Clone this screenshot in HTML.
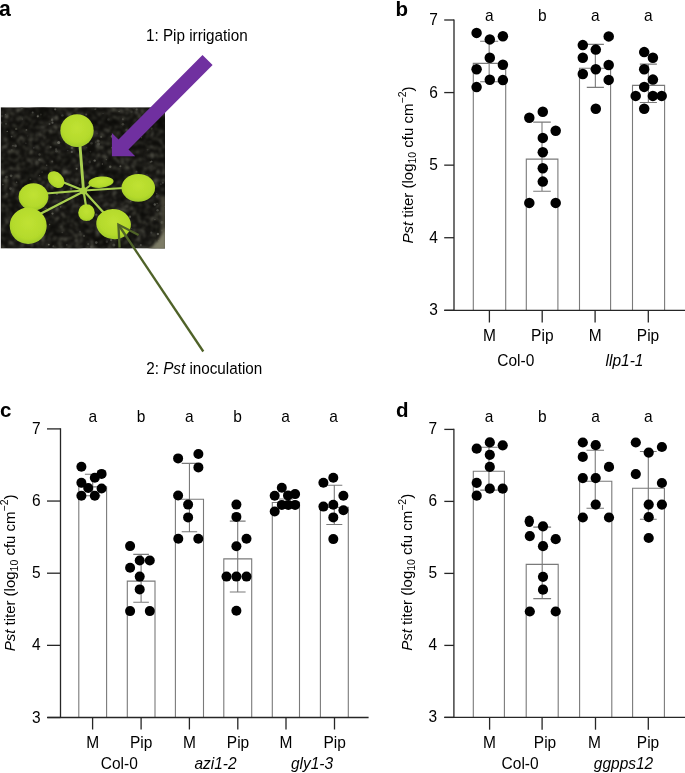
<!DOCTYPE html>
<html><head><meta charset="utf-8"><style>
html,body{margin:0;padding:0;background:#fff;}
svg{display:block;font-family:"Liberation Sans", sans-serif;will-change:transform;}
text{fill:#000;}
</style></head><body>
<svg width="685" height="773" viewBox="0 0 685 773">
<rect width="685" height="773" fill="#fff"/>
<text x="-0.9" y="16.0" font-size="21.2" text-anchor="start" font-weight="bold" font-style="normal" >a</text>
<defs><clipPath id="ph"><rect x="1" y="107.3" width="164" height="141.2"/></clipPath><radialGradient id="lf" cx="0.5" cy="0.42" r="0.62"><stop offset="0" stop-color="#c0e232"/><stop offset="0.7" stop-color="#b4da2c"/><stop offset="1" stop-color="#9ac62c"/></radialGradient><filter id="soil" x="0" y="0" width="100%" height="100%" color-interpolation-filters="sRGB"><feTurbulence type="fractalNoise" baseFrequency="0.24" numOctaves="2" seed="11" result="n"/><feColorMatrix in="n" type="matrix" values="0 0 0 0 0.40  0 0 0 0 0.40  0 0 0 0 0.35  2.2 0 0 0 -1.0" result="a"/><feGaussianBlur in="a" stdDeviation="0.8"/></filter><filter id="soil2" x="0" y="0" width="100%" height="100%" color-interpolation-filters="sRGB"><feTurbulence type="fractalNoise" baseFrequency="0.2" numOctaves="1" seed="4" result="n"/><feColorMatrix in="n" type="matrix" values="0 0 0 0 0.5  0 0 0 0 0.5  0 0 0 0 0.45  5 0 0 0 -3.2" result="a"/><feGaussianBlur in="a" stdDeviation="0.9"/></filter><filter id="soil3" x="0" y="0" width="100%" height="100%" color-interpolation-filters="sRGB"><feTurbulence type="fractalNoise" baseFrequency="0.06" numOctaves="2" seed="21" result="n"/><feColorMatrix in="n" type="matrix" values="0 0 0 0 0.02  0 0 0 0 0.02  0 0 0 0 0.01  1.6 0 0 0 -0.6" result="a"/></filter><filter id="pb" x="-50%" y="-50%" width="200%" height="200%"><feGaussianBlur stdDeviation="1.6"/></filter><filter id="lb" x="-20%" y="-20%" width="140%" height="140%"><feGaussianBlur stdDeviation="0.55"/></filter><radialGradient id="pot" gradientUnits="userSpaceOnUse" cx="78" cy="158" r="122"><stop offset="0.80" stop-color="#77755f" stop-opacity="0"/><stop offset="0.9" stop-color="#77755f" stop-opacity="0.85"/><stop offset="1" stop-color="#4a493a" stop-opacity="0.9"/></radialGradient></defs>
<g clip-path="url(#ph)">
<rect x="1" y="107.3" width="164" height="141.2" fill="#151411"/>
<rect x="1" y="107.3" width="164" height="141.2" filter="url(#soil)"/>
<rect x="1" y="107.3" width="164" height="141.2" filter="url(#soil2)"/>
<rect x="1" y="107.3" width="164" height="141.2" filter="url(#soil3)"/>
<g filter="url(#lb)"><circle cx="103.2" cy="212.1" r="1.3" fill="#7e7e73" opacity="0.67"/><circle cx="152.3" cy="111.6" r="1.0" fill="#7e7e73" opacity="0.62"/><circle cx="148.7" cy="123.5" r="1.0" fill="#54544d" opacity="0.57"/><circle cx="95.1" cy="109.3" r="0.8" fill="#56564f" opacity="0.76"/><circle cx="126.6" cy="130.0" r="1.3" fill="#4e4e47" opacity="0.61"/><circle cx="21.8" cy="107.8" r="1.4" fill="#52524b" opacity="0.41"/><circle cx="162.1" cy="230.5" r="0.9" fill="#7f7f74" opacity="0.57"/><circle cx="112.2" cy="136.4" r="1.4" fill="#6f6f66" opacity="0.78"/><circle cx="147.6" cy="149.6" r="0.9" fill="#4f4f48" opacity="0.37"/><circle cx="11.7" cy="150.0" r="1.1" fill="#464640" opacity="0.64"/><circle cx="56.4" cy="151.2" r="1.3" fill="#62625a" opacity="0.46"/><circle cx="79.9" cy="206.9" r="0.7" fill="#808075" opacity="0.31"/><circle cx="124.0" cy="226.6" r="0.6" fill="#75756b" opacity="0.48"/><circle cx="95.9" cy="108.8" r="0.6" fill="#505049" opacity="0.78"/><circle cx="33.2" cy="214.1" r="1.4" fill="#7e7e73" opacity="0.47"/><circle cx="59.2" cy="181.5" r="1.3" fill="#4c4c45" opacity="0.67"/><circle cx="131.7" cy="228.7" r="0.6" fill="#7e7e73" opacity="0.35"/><circle cx="56.9" cy="193.6" r="1.4" fill="#5a5a52" opacity="0.76"/><circle cx="90.4" cy="151.6" r="0.9" fill="#505049" opacity="0.34"/><circle cx="25.4" cy="204.7" r="1.5" fill="#4f4f48" opacity="0.32"/><circle cx="162.8" cy="182.7" r="1.0" fill="#54544d" opacity="0.60"/><circle cx="136.5" cy="171.7" r="1.0" fill="#494943" opacity="0.76"/><circle cx="6.4" cy="177.1" r="1.4" fill="#4d4d46" opacity="0.67"/><circle cx="156.8" cy="196.4" r="1.3" fill="#4c4c45" opacity="0.52"/><circle cx="25.5" cy="226.6" r="0.9" fill="#616159" opacity="0.80"/><circle cx="140.8" cy="245.1" r="1.0" fill="#63635b" opacity="0.66"/><circle cx="79.6" cy="148.5" r="1.0" fill="#4e4e47" opacity="0.49"/><circle cx="163.1" cy="242.8" r="1.2" fill="#63635b" opacity="0.47"/><circle cx="15.6" cy="145.9" r="1.3" fill="#7a7a70" opacity="0.48"/><circle cx="129.9" cy="216.8" r="1.2" fill="#6d6d64" opacity="0.68"/><circle cx="60.6" cy="206.8" r="0.9" fill="#63635b" opacity="0.68"/><circle cx="114.3" cy="148.9" r="1.5" fill="#6c6c63" opacity="0.59"/><circle cx="2.9" cy="184.6" r="0.8" fill="#6e6e65" opacity="0.53"/><circle cx="134.9" cy="198.8" r="1.3" fill="#5a5a52" opacity="0.62"/><circle cx="122.0" cy="224.3" r="0.9" fill="#78786e" opacity="0.73"/><circle cx="113.9" cy="245.1" r="1.5" fill="#65655c" opacity="0.56"/><circle cx="28.3" cy="225.5" r="1.4" fill="#62625a" opacity="0.65"/><circle cx="119.0" cy="210.5" r="0.8" fill="#74746a" opacity="0.59"/><circle cx="110.2" cy="166.8" r="1.2" fill="#74746a" opacity="0.62"/><circle cx="119.1" cy="111.4" r="0.7" fill="#606058" opacity="0.63"/><circle cx="36.9" cy="204.2" r="1.2" fill="#484842" opacity="0.54"/><circle cx="38.1" cy="115.1" r="0.7" fill="#595951" opacity="0.39"/><circle cx="32.7" cy="112.5" r="1.0" fill="#5c5c54" opacity="0.61"/><circle cx="97.8" cy="141.0" r="1.4" fill="#464640" opacity="0.50"/><circle cx="46.7" cy="165.3" r="0.7" fill="#77776d" opacity="0.49"/><circle cx="6.9" cy="194.0" r="0.7" fill="#66665d" opacity="0.47"/><circle cx="96.3" cy="242.6" r="1.3" fill="#5f5f57" opacity="0.71"/><circle cx="106.3" cy="159.6" r="0.7" fill="#696960" opacity="0.58"/><circle cx="158.0" cy="244.0" r="1.1" fill="#5b5b53" opacity="0.75"/><circle cx="1.2" cy="122.7" r="1.1" fill="#6a6a61" opacity="0.37"/><circle cx="104.2" cy="233.2" r="0.9" fill="#5f5f57" opacity="0.41"/><circle cx="48.8" cy="244.6" r="0.9" fill="#7f7f74" opacity="0.76"/><circle cx="98.7" cy="144.1" r="1.5" fill="#63635b" opacity="0.51"/><circle cx="53.3" cy="246.3" r="1.0" fill="#575750" opacity="0.54"/><circle cx="21.0" cy="195.2" r="1.0" fill="#575750" opacity="0.69"/><circle cx="136.6" cy="109.4" r="1.1" fill="#56564f" opacity="0.77"/><circle cx="129.2" cy="142.1" r="0.8" fill="#4f4f48" opacity="0.79"/><circle cx="49.1" cy="193.2" r="1.0" fill="#6c6c63" opacity="0.60"/><circle cx="122.9" cy="124.2" r="1.3" fill="#585850" opacity="0.57"/><circle cx="56.1" cy="149.4" r="1.1" fill="#616159" opacity="0.48"/><circle cx="123.2" cy="190.8" r="0.6" fill="#55554e" opacity="0.53"/><circle cx="151.3" cy="232.7" r="1.1" fill="#464640" opacity="0.69"/><circle cx="71.1" cy="188.7" r="1.2" fill="#6b6b62" opacity="0.54"/><circle cx="150.5" cy="161.9" r="1.0" fill="#79796f" opacity="0.40"/><circle cx="49.6" cy="224.5" r="0.7" fill="#78786e" opacity="0.65"/><circle cx="72.0" cy="147.9" r="1.3" fill="#7c7c72" opacity="0.37"/><circle cx="79.5" cy="184.9" r="1.0" fill="#595951" opacity="0.38"/><circle cx="97.1" cy="222.0" r="0.7" fill="#53534c" opacity="0.71"/><circle cx="130.8" cy="201.1" r="0.6" fill="#717167" opacity="0.79"/><circle cx="164.7" cy="206.4" r="0.6" fill="#78786e" opacity="0.41"/><circle cx="106.9" cy="241.8" r="1.2" fill="#4e4e47" opacity="0.45"/><circle cx="151.6" cy="128.6" r="1.1" fill="#5e5e56" opacity="0.38"/><circle cx="103.1" cy="113.6" r="0.7" fill="#5c5c54" opacity="0.34"/><circle cx="10.4" cy="188.6" r="1.3" fill="#7a7a70" opacity="0.37"/><circle cx="71.8" cy="151.9" r="1.1" fill="#63635b" opacity="0.77"/><circle cx="62.4" cy="115.4" r="1.2" fill="#4f4f48" opacity="0.62"/><circle cx="84.0" cy="235.9" r="1.1" fill="#6b6b62" opacity="0.43"/><circle cx="91.5" cy="143.3" r="1.3" fill="#65655c" opacity="0.37"/><circle cx="39.4" cy="159.8" r="1.3" fill="#505049" opacity="0.66"/><circle cx="108.4" cy="119.5" r="1.2" fill="#4b4b45" opacity="0.36"/><circle cx="98.4" cy="141.1" r="1.4" fill="#62625a" opacity="0.46"/><circle cx="131.6" cy="111.7" r="1.3" fill="#494943" opacity="0.38"/><circle cx="157.1" cy="203.5" r="0.8" fill="#4c4c45" opacity="0.79"/><circle cx="110.1" cy="223.2" r="0.7" fill="#6b6b62" opacity="0.48"/><circle cx="39.5" cy="154.5" r="1.2" fill="#5a5a52" opacity="0.49"/><circle cx="23.4" cy="224.7" r="1.2" fill="#76766c" opacity="0.52"/><circle cx="140.7" cy="180.5" r="1.1" fill="#68685f" opacity="0.67"/><circle cx="65.9" cy="121.2" r="0.6" fill="#52524b" opacity="0.32"/><circle cx="146.8" cy="175.3" r="1.3" fill="#464640" opacity="0.54"/><circle cx="146.9" cy="194.8" r="1.0" fill="#616159" opacity="0.35"/><circle cx="26.4" cy="129.9" r="0.9" fill="#5d5d55" opacity="0.74"/><circle cx="25.9" cy="143.3" r="0.8" fill="#4f4f48" opacity="0.44"/><circle cx="39.6" cy="175.5" r="0.6" fill="#7d7d73" opacity="0.48"/><circle cx="154.8" cy="204.5" r="1.2" fill="#62625a" opacity="0.77"/><circle cx="20.3" cy="201.8" r="0.9" fill="#6e6e65" opacity="0.66"/><circle cx="27.8" cy="135.8" r="0.6" fill="#53534c" opacity="0.34"/><circle cx="66.8" cy="244.8" r="0.9" fill="#585850" opacity="0.53"/><circle cx="47.4" cy="210.8" r="1.2" fill="#4f4f48" opacity="0.42"/><circle cx="111.2" cy="240.1" r="1.2" fill="#5f5f57" opacity="0.79"/><circle cx="2.0" cy="116.1" r="1.3" fill="#5e5e56" opacity="0.32"/><circle cx="90.9" cy="247.0" r="1.1" fill="#5b5b53" opacity="0.35"/><circle cx="12.7" cy="234.2" r="1.0" fill="#7e7e73" opacity="0.33"/><circle cx="40.9" cy="114.6" r="1.0" fill="#494943" opacity="0.43"/><circle cx="67.8" cy="150.6" r="0.6" fill="#484842" opacity="0.79"/><circle cx="30.4" cy="179.2" r="1.0" fill="#65655c" opacity="0.34"/><circle cx="52.5" cy="122.7" r="1.1" fill="#7d7d73" opacity="0.60"/><circle cx="141.5" cy="137.7" r="0.6" fill="#66665d" opacity="0.54"/><circle cx="94.7" cy="160.6" r="1.2" fill="#717167" opacity="0.76"/><circle cx="51.4" cy="170.8" r="1.3" fill="#53534c" opacity="0.36"/><circle cx="52.1" cy="119.9" r="1.3" fill="#77776d" opacity="0.46"/><circle cx="22.3" cy="119.1" r="0.8" fill="#4b4b45" opacity="0.51"/><circle cx="95.6" cy="142.1" r="0.7" fill="#707067" opacity="0.32"/><circle cx="33.8" cy="147.8" r="0.9" fill="#4b4b45" opacity="0.51"/><circle cx="52.5" cy="213.6" r="1.1" fill="#7b7b71" opacity="0.63"/><circle cx="125.6" cy="188.5" r="1.0" fill="#77776d" opacity="0.63"/><circle cx="157.6" cy="210.2" r="1.2" fill="#56564f" opacity="0.71"/><circle cx="63.7" cy="125.9" r="0.7" fill="#505049" opacity="0.43"/><circle cx="111.8" cy="147.8" r="0.7" fill="#737369" opacity="0.58"/><circle cx="5.5" cy="114.6" r="0.7" fill="#5b5b53" opacity="0.73"/><circle cx="156.7" cy="193.8" r="0.8" fill="#5f5f57" opacity="0.48"/><circle cx="55.2" cy="109.3" r="1.1" fill="#77776d" opacity="0.66"/><circle cx="16.6" cy="182.3" r="0.8" fill="#707067" opacity="0.52"/><circle cx="154.9" cy="219.6" r="0.7" fill="#595951" opacity="0.76"/><circle cx="76.6" cy="168.7" r="1.0" fill="#74746a" opacity="0.77"/><circle cx="88.3" cy="244.2" r="1.1" fill="#4c4c45" opacity="0.71"/><circle cx="69.8" cy="114.9" r="1.5" fill="#474741" opacity="0.59"/><circle cx="80.0" cy="231.8" r="1.0" fill="#52524b" opacity="0.44"/><circle cx="34.0" cy="186.8" r="0.9" fill="#737369" opacity="0.42"/><circle cx="58.7" cy="142.5" r="1.5" fill="#78786e" opacity="0.72"/><circle cx="102.4" cy="164.0" r="0.7" fill="#77776d" opacity="0.55"/><circle cx="7.2" cy="131.4" r="0.7" fill="#717167" opacity="0.75"/><circle cx="33.7" cy="219.9" r="0.9" fill="#6e6e65" opacity="0.73"/><circle cx="103.2" cy="220.4" r="0.9" fill="#464640" opacity="0.56"/><circle cx="97.2" cy="133.5" r="1.0" fill="#595951" opacity="0.31"/><circle cx="52.2" cy="161.5" r="1.0" fill="#707067" opacity="0.50"/><circle cx="162.1" cy="222.5" r="1.4" fill="#6f6f66" opacity="0.64"/><circle cx="89.0" cy="220.1" r="0.9" fill="#696960" opacity="0.64"/><circle cx="86.6" cy="147.6" r="0.7" fill="#4b4b45" opacity="0.48"/><circle cx="96.2" cy="214.6" r="1.2" fill="#585850" opacity="0.76"/><circle cx="46.0" cy="208.5" r="0.7" fill="#737369" opacity="0.63"/><circle cx="157.9" cy="234.0" r="1.2" fill="#78786e" opacity="0.67"/><circle cx="101.2" cy="136.9" r="1.1" fill="#7b7b71" opacity="0.42"/><circle cx="160.8" cy="184.2" r="1.0" fill="#464640" opacity="0.50"/><circle cx="30.2" cy="199.6" r="1.4" fill="#7c7c72" opacity="0.61"/><circle cx="64.4" cy="122.9" r="1.2" fill="#67675e" opacity="0.66"/><circle cx="62.3" cy="232.5" r="0.8" fill="#585850" opacity="0.43"/><circle cx="103.0" cy="234.0" r="0.8" fill="#6b6b62" opacity="0.68"/><circle cx="37.8" cy="116.3" r="1.1" fill="#77776d" opacity="0.74"/><circle cx="120.4" cy="166.3" r="1.0" fill="#65655c" opacity="0.75"/><circle cx="50.6" cy="147.1" r="1.1" fill="#7f7f74" opacity="0.39"/><circle cx="6.0" cy="123.8" r="1.1" fill="#6a6a61" opacity="0.39"/><circle cx="32.2" cy="191.3" r="1.2" fill="#6f6f66" opacity="0.66"/><circle cx="11.1" cy="175.8" r="1.4" fill="#7f7f74" opacity="0.46"/><circle cx="140.5" cy="198.5" r="1.4" fill="#53534c" opacity="0.65"/><circle cx="138.9" cy="174.7" r="0.7" fill="#51514a" opacity="0.38"/><circle cx="16.2" cy="128.9" r="1.2" fill="#4c4c45" opacity="0.68"/><circle cx="121.7" cy="222.6" r="1.3" fill="#707067" opacity="0.76"/><circle cx="157.9" cy="195.6" r="1.5" fill="#4c4c45" opacity="0.35"/><circle cx="11.6" cy="136.6" r="0.9" fill="#616159" opacity="0.64"/><circle cx="122.8" cy="119.3" r="1.0" fill="#66665d" opacity="0.49"/><circle cx="20.3" cy="191.7" r="0.9" fill="#6f6f66" opacity="0.55"/><circle cx="158.9" cy="240.7" r="0.7" fill="#737369" opacity="0.66"/><circle cx="49.5" cy="124.0" r="1.0" fill="#5b5b53" opacity="0.67"/><circle cx="151.6" cy="161.4" r="0.9" fill="#63635b" opacity="0.65"/><circle cx="130.4" cy="188.7" r="0.9" fill="#5a5a52" opacity="0.72"/><circle cx="86.2" cy="114.6" r="1.0" fill="#54544d" opacity="0.63"/><circle cx="13.0" cy="145.7" r="0.7" fill="#62625a" opacity="0.79"/><circle cx="89.8" cy="162.0" r="1.4" fill="#4b4b45" opacity="0.48"/><circle cx="134.0" cy="108.2" r="1.3" fill="#5b5b53" opacity="0.31"/><circle cx="42.1" cy="172.1" r="0.9" fill="#65655c" opacity="0.33"/></g>
<path d="M160,196 Q163,222 158,249 L166,249 L166,196 Z" fill="#4d4b3d" opacity="0.8" filter="url(#pb)"/>
<path d="M146,250 Q160,243 166,226 L166,250 Z" fill="#7d7b66" filter="url(#pb)"/>
<g filter="url(#lb)">
<line x1="83.5" y1="190.5" x2="80.0" y2="146.0" stroke="#a8cf50" stroke-width="2.9" stroke-linecap="round"/>
<line x1="83.5" y1="190.5" x2="60.0" y2="181.0" stroke="#a8cf50" stroke-width="2.2" stroke-linecap="round"/>
<line x1="83.5" y1="190.5" x2="46.0" y2="193.5" stroke="#a8cf50" stroke-width="2.2" stroke-linecap="round"/>
<line x1="83.5" y1="191.5" x2="40.0" y2="214.0" stroke="#a8cf50" stroke-width="2.2" stroke-linecap="round"/>
<line x1="83.5" y1="190.5" x2="86.0" y2="206.0" stroke="#a8cf50" stroke-width="2.2" stroke-linecap="round"/>
<line x1="83.5" y1="190.5" x2="104.0" y2="213.0" stroke="#a8cf50" stroke-width="2.2" stroke-linecap="round"/>
<line x1="83.5" y1="190.5" x2="124.0" y2="188.0" stroke="#a8cf50" stroke-width="2.2" stroke-linecap="round"/>
<line x1="83.5" y1="190.5" x2="92.0" y2="184.0" stroke="#a8cf50" stroke-width="2.2" stroke-linecap="round"/>
<circle cx="83.5" cy="190.8" r="3.6" fill="#a9d043"/>
<ellipse cx="77.0" cy="130.6" rx="16.7" ry="16.3" transform="rotate(0 77.0 130.6)" fill="url(#lf)"/>
<ellipse cx="56.0" cy="179.6" rx="9.6" ry="7.0" transform="rotate(45 56.0 179.6)" fill="url(#lf)"/>
<ellipse cx="101.0" cy="182.2" rx="12.6" ry="5.6" transform="rotate(-5 101.0 182.2)" fill="url(#lf)"/>
<ellipse cx="138.3" cy="187.8" rx="16.8" ry="13.9" transform="rotate(0 138.3 187.8)" fill="url(#lf)"/>
<ellipse cx="33.5" cy="196.8" rx="14.9" ry="13.6" transform="rotate(0 33.5 196.8)" fill="url(#lf)"/>
<ellipse cx="28.2" cy="225.8" rx="18.5" ry="18.2" transform="rotate(0 28.2 225.8)" fill="url(#lf)"/>
<ellipse cx="86.5" cy="212.7" rx="8.3" ry="8.4" transform="rotate(0 86.5 212.7)" fill="url(#lf)"/>
<ellipse cx="113.6" cy="224.1" rx="17.4" ry="15.0" transform="rotate(10 113.6 224.1)" fill="url(#lf)"/>
</g>
</g>
<line x1="0.5" y1="107.3" x2="0.5" y2="248.5" stroke="#d8d8d8" stroke-width="1"/>
<polygon points="202.5,54.9 212.6,65.0 128.5,149.5 135.2,156.2 111.9,156.2 111.9,132.9 118.5,139.5" fill="#7030a0"/>
<g stroke="#4f6228" stroke-width="2.3" fill="none" stroke-linecap="butt"><line x1="203.3" y1="351.5" x2="118.6" y2="225.0"/><polyline points="138.6,235.0 118.4,224.6 119.6,247.6"/></g>
<text transform="translate(146.0,40.5) scale(1,1.03)" font-size="15.25" text-anchor="start" font-weight="normal" font-style="normal" >1: Pip irrigation</text>
<text transform="translate(146.2,374.0) scale(1,1.03)" font-size="15.25">2: <tspan font-style="italic">Pst</tspan> inoculation</text>
<path d="M473.3,310.3 V63.4 H505.7 V310.3" fill="#fff" stroke="#7a7a7a" stroke-width="1.1"/>
<path d="M489.15,41.3 V81.8 M480.1,41.3 H498.2 M480.1,81.8 H498.2" fill="none" stroke="#7a7a7a" stroke-width="1.1"/>
<path d="M526.3,310.3 V159.1 H557.9 V310.3" fill="#fff" stroke="#7a7a7a" stroke-width="1.1"/>
<path d="M542.0,122.1 V191.3 M533.2,122.1 H550.8 M533.2,191.3 H550.8" fill="none" stroke="#7a7a7a" stroke-width="1.1"/>
<path d="M579.5,310.3 V68.2 H610.6 V310.3" fill="#fff" stroke="#7a7a7a" stroke-width="1.1"/>
<path d="M595.3499999999999,44.4 V87.4 M586.8,44.4 H603.9 M586.8,87.4 H603.9" fill="none" stroke="#7a7a7a" stroke-width="1.1"/>
<path d="M632.5,310.3 V85.4 H664.6 V310.3" fill="#fff" stroke="#7a7a7a" stroke-width="1.1"/>
<path d="M648.3499999999999,64.1 V102.5 M639.8,64.1 H656.9 M639.8,102.5 H656.9" fill="none" stroke="#7a7a7a" stroke-width="1.1"/>
<path d="M454.0,19.4 V310.3" stroke="#262626" stroke-width="1.3" fill="none"/>
<path d="M444.3,310.3 H685" stroke="#262626" stroke-width="1.3" fill="none"/>
<path d="M444.2,310.3 H454.0" stroke="#262626" stroke-width="1.3" fill="none"/>
<text transform="translate(437.8,315.3) scale(1,1.03)" font-size="15.5" text-anchor="end" font-weight="normal" font-style="normal" >3</text>
<path d="M444.2,237.72500000000002 H454.0" stroke="#262626" stroke-width="1.3" fill="none"/>
<text transform="translate(437.8,242.73) scale(1,1.03)" font-size="15.5" text-anchor="end" font-weight="normal" font-style="normal" >4</text>
<path d="M444.2,165.15 H454.0" stroke="#262626" stroke-width="1.3" fill="none"/>
<text transform="translate(437.8,170.15) scale(1,1.03)" font-size="15.5" text-anchor="end" font-weight="normal" font-style="normal" >5</text>
<path d="M444.2,92.575 H454.0" stroke="#262626" stroke-width="1.3" fill="none"/>
<text transform="translate(437.8,97.58) scale(1,1.03)" font-size="15.5" text-anchor="end" font-weight="normal" font-style="normal" >6</text>
<path d="M444.2,20.0 H454.0" stroke="#262626" stroke-width="1.3" fill="none"/>
<text transform="translate(437.8,25.0) scale(1,1.03)" font-size="15.5" text-anchor="end" font-weight="normal" font-style="normal" >7</text>
<path d="M489.4,310.3 V322.5" stroke="#262626" stroke-width="1.3" fill="none"/>
<path d="M542.2,310.3 V322.5" stroke="#262626" stroke-width="1.3" fill="none"/>
<path d="M595.1,310.3 V322.5" stroke="#262626" stroke-width="1.3" fill="none"/>
<path d="M648.3,310.3 V322.5" stroke="#262626" stroke-width="1.3" fill="none"/>
<circle cx="476.6" cy="32.9" r="5.25"/>
<circle cx="489.8" cy="39.4" r="5.25"/>
<circle cx="502.9" cy="36.3" r="5.25"/>
<circle cx="489.8" cy="57.8" r="5.25"/>
<circle cx="502.9" cy="64.8" r="5.25"/>
<circle cx="476.6" cy="69.2" r="5.25"/>
<circle cx="489.8" cy="79.7" r="5.25"/>
<circle cx="502.9" cy="80.1" r="5.25"/>
<circle cx="476.6" cy="87.1" r="5.25"/>
<circle cx="542.8" cy="111.8" r="5.25"/>
<circle cx="529.3" cy="117.7" r="5.25"/>
<circle cx="555.7" cy="130.7" r="5.25"/>
<circle cx="542.8" cy="137.9" r="5.25"/>
<circle cx="542.8" cy="152.2" r="5.25"/>
<circle cx="542.8" cy="168.2" r="5.25"/>
<circle cx="542.8" cy="181.6" r="5.25"/>
<circle cx="529.3" cy="202.9" r="5.25"/>
<circle cx="555.7" cy="202.9" r="5.25"/>
<circle cx="582.8" cy="45.1" r="5.25"/>
<circle cx="608.7" cy="36.4" r="5.25"/>
<circle cx="595.8" cy="49.6" r="5.25"/>
<circle cx="582.8" cy="57.7" r="5.25"/>
<circle cx="608.7" cy="65.0" r="5.25"/>
<circle cx="595.8" cy="69.3" r="5.25"/>
<circle cx="582.8" cy="74.0" r="5.25"/>
<circle cx="608.7" cy="79.9" r="5.25"/>
<circle cx="595.8" cy="108.8" r="5.25"/>
<circle cx="644.2" cy="52.1" r="5.25"/>
<circle cx="652.9" cy="57.7" r="5.25"/>
<circle cx="644.2" cy="69.3" r="5.25"/>
<circle cx="652.9" cy="79.6" r="5.25"/>
<circle cx="644.2" cy="86.9" r="5.25"/>
<circle cx="635.7" cy="95.9" r="5.25"/>
<circle cx="652.9" cy="95.9" r="5.25"/>
<circle cx="661.7" cy="95.9" r="5.25"/>
<circle cx="644.2" cy="108.8" r="5.25"/>
<text transform="translate(489.2,20.7) scale(1,1.03)" font-size="15.5" text-anchor="middle" font-weight="normal" font-style="normal" >a</text>
<text transform="translate(542.2,20.7) scale(1,1.03)" font-size="15.5" text-anchor="middle" font-weight="normal" font-style="normal" >b</text>
<text transform="translate(595.2,20.7) scale(1,1.03)" font-size="15.5" text-anchor="middle" font-weight="normal" font-style="normal" >a</text>
<text transform="translate(648.4,20.7) scale(1,1.03)" font-size="15.5" text-anchor="middle" font-weight="normal" font-style="normal" >a</text>
<text transform="translate(489.4,340.5) scale(1,1.03)" font-size="15.5" text-anchor="middle" font-weight="normal" font-style="normal" >M</text>
<text transform="translate(542.3,340.5) scale(1,1.03)" font-size="15.5" text-anchor="middle" font-weight="normal" font-style="normal" >Pip</text>
<text transform="translate(595.1,340.5) scale(1,1.03)" font-size="15.5" text-anchor="middle" font-weight="normal" font-style="normal" >M</text>
<text transform="translate(648.0,340.5) scale(1,1.03)" font-size="15.5" text-anchor="middle" font-weight="normal" font-style="normal" >Pip</text>
<text transform="translate(515.8,366.0) scale(1,1.03)" font-size="15.5" text-anchor="middle" font-weight="normal" font-style="normal" >Col-0</text>
<text transform="translate(624.5,366.0) scale(1,1.03)" font-size="15.5" text-anchor="middle" font-weight="normal" font-style="italic" >llp1-1</text>
<text transform="translate(412.6,165.0) rotate(-90) scale(1,1.03)" x="0" y="0" font-size="15" text-anchor="middle"><tspan font-style="italic">Pst</tspan> titer (log<tspan font-size="10.5" dy="3.5">10</tspan><tspan dy="-3.5"> cfu cm</tspan><tspan font-size="10.5" dy="-6">−2</tspan><tspan dy="6">)</tspan></text>
<text x="395.4" y="15.8" font-size="20.5" text-anchor="start" font-weight="bold" font-style="normal" >b</text>
<path d="M78.8,717.5 V486.9 H106.6 V717.5" fill="#fff" stroke="#7a7a7a" stroke-width="1.1"/>
<path d="M92.7,474.2 V495.8 M84.9,474.2 H100.5 M84.9,495.8 H100.5" fill="none" stroke="#7a7a7a" stroke-width="1.1"/>
<path d="M127.3,717.5 V581.1 H155.0 V717.5" fill="#fff" stroke="#7a7a7a" stroke-width="1.1"/>
<path d="M141.10000000000002,554.4 V602.3 M133.3,554.4 H148.9 M133.3,602.3 H148.9" fill="none" stroke="#7a7a7a" stroke-width="1.1"/>
<path d="M175.4,717.5 V499.3 H203.5 V717.5" fill="#fff" stroke="#7a7a7a" stroke-width="1.1"/>
<path d="M189.45,463.4 V531.8 M181.7,463.4 H197.2 M181.7,531.8 H197.2" fill="none" stroke="#7a7a7a" stroke-width="1.1"/>
<path d="M223.8,717.5 V558.9 H251.7 V717.5" fill="#fff" stroke="#7a7a7a" stroke-width="1.1"/>
<path d="M237.7,521.1 V592.0 M229.8,521.1 H245.6 M229.8,592.0 H245.6" fill="none" stroke="#7a7a7a" stroke-width="1.1"/>
<path d="M272.3,717.5 V502.5 H299.5 V717.5" fill="#fff" stroke="#7a7a7a" stroke-width="1.1"/>
<path d="M286.0,499.0 V505.0 M279.0,499.0 H293.0 M279.0,505.0 H293.0" fill="none" stroke="#7a7a7a" stroke-width="1.1"/>
<path d="M320.4,717.5 V507.4 H348.3 V717.5" fill="#fff" stroke="#7a7a7a" stroke-width="1.1"/>
<path d="M334.3,485.3 V524.5 M326.3,485.3 H342.3 M326.3,524.5 H342.3" fill="none" stroke="#7a7a7a" stroke-width="1.1"/>
<path d="M60.5,428.29999999999995 V717.5" stroke="#262626" stroke-width="1.3" fill="none"/>
<path d="M47.4,717.5 H368.6" stroke="#262626" stroke-width="1.3" fill="none"/>
<path d="M47.0,717.5 H60.5" stroke="#262626" stroke-width="1.3" fill="none"/>
<text transform="translate(40.6,722.5) scale(1,1.03)" font-size="15.5" text-anchor="end" font-weight="normal" font-style="normal" >3</text>
<path d="M47.0,645.35 H60.5" stroke="#262626" stroke-width="1.3" fill="none"/>
<text transform="translate(40.6,650.35) scale(1,1.03)" font-size="15.5" text-anchor="end" font-weight="normal" font-style="normal" >4</text>
<path d="M47.0,573.2 H60.5" stroke="#262626" stroke-width="1.3" fill="none"/>
<text transform="translate(40.6,578.2) scale(1,1.03)" font-size="15.5" text-anchor="end" font-weight="normal" font-style="normal" >5</text>
<path d="M47.0,501.04999999999995 H60.5" stroke="#262626" stroke-width="1.3" fill="none"/>
<text transform="translate(40.6,506.05) scale(1,1.03)" font-size="15.5" text-anchor="end" font-weight="normal" font-style="normal" >6</text>
<path d="M47.0,428.9 H60.5" stroke="#262626" stroke-width="1.3" fill="none"/>
<text transform="translate(40.6,433.9) scale(1,1.03)" font-size="15.5" text-anchor="end" font-weight="normal" font-style="normal" >7</text>
<path d="M92.6,717.5 V729.5" stroke="#262626" stroke-width="1.3" fill="none"/>
<path d="M141.1,717.5 V729.5" stroke="#262626" stroke-width="1.3" fill="none"/>
<path d="M189.4,717.5 V729.5" stroke="#262626" stroke-width="1.3" fill="none"/>
<path d="M237.8,717.5 V729.5" stroke="#262626" stroke-width="1.3" fill="none"/>
<path d="M286.0,717.5 V729.5" stroke="#262626" stroke-width="1.3" fill="none"/>
<path d="M334.5,717.5 V729.5" stroke="#262626" stroke-width="1.3" fill="none"/>
<circle cx="81.4" cy="466.8" r="5.0"/>
<circle cx="101.6" cy="473.9" r="5.0"/>
<circle cx="94.8" cy="477.8" r="5.0"/>
<circle cx="81.4" cy="482.8" r="5.0"/>
<circle cx="88.2" cy="488.0" r="5.0"/>
<circle cx="101.6" cy="488.5" r="5.0"/>
<circle cx="81.4" cy="495.8" r="5.0"/>
<circle cx="94.8" cy="495.8" r="5.0"/>
<circle cx="130.1" cy="546.1" r="5.0"/>
<circle cx="139.7" cy="560.5" r="5.0"/>
<circle cx="149.8" cy="560.5" r="5.0"/>
<circle cx="130.1" cy="567.7" r="5.0"/>
<circle cx="139.7" cy="576.6" r="5.0"/>
<circle cx="139.7" cy="589.4" r="5.0"/>
<circle cx="130.1" cy="611.1" r="5.0"/>
<circle cx="149.8" cy="611.1" r="5.0"/>
<circle cx="178.1" cy="458.4" r="5.0"/>
<circle cx="198.4" cy="454.0" r="5.0"/>
<circle cx="198.4" cy="467.4" r="5.0"/>
<circle cx="178.1" cy="495.5" r="5.0"/>
<circle cx="188.1" cy="504.6" r="5.0"/>
<circle cx="188.1" cy="517.4" r="5.0"/>
<circle cx="178.3" cy="538.8" r="5.0"/>
<circle cx="198.3" cy="538.8" r="5.0"/>
<circle cx="236.4" cy="504.6" r="5.0"/>
<circle cx="236.4" cy="516.9" r="5.0"/>
<circle cx="246.5" cy="538.7" r="5.0"/>
<circle cx="236.4" cy="546.3" r="5.0"/>
<circle cx="226.5" cy="576.6" r="5.0"/>
<circle cx="236.4" cy="576.6" r="5.0"/>
<circle cx="246.5" cy="576.6" r="5.0"/>
<circle cx="236.4" cy="610.7" r="5.0"/>
<circle cx="281.8" cy="487.8" r="5.0"/>
<circle cx="274.7" cy="495.7" r="5.0"/>
<circle cx="288.0" cy="495.4" r="5.0"/>
<circle cx="295.1" cy="494.1" r="5.0"/>
<circle cx="281.8" cy="504.9" r="5.0"/>
<circle cx="288.3" cy="504.9" r="5.0"/>
<circle cx="295.1" cy="504.9" r="5.0"/>
<circle cx="274.7" cy="511.5" r="5.0"/>
<circle cx="333.3" cy="477.7" r="5.0"/>
<circle cx="323.4" cy="482.8" r="5.0"/>
<circle cx="343.4" cy="495.7" r="5.0"/>
<circle cx="323.4" cy="506.6" r="5.0"/>
<circle cx="333.3" cy="504.7" r="5.0"/>
<circle cx="343.4" cy="510.3" r="5.0"/>
<circle cx="333.3" cy="517.4" r="5.0"/>
<circle cx="333.3" cy="539.1" r="5.0"/>
<text transform="translate(92.7,421.7) scale(1,1.03)" font-size="15.5" text-anchor="middle" font-weight="normal" font-style="normal" >a</text>
<text transform="translate(141.1,421.7) scale(1,1.03)" font-size="15.5" text-anchor="middle" font-weight="normal" font-style="normal" >b</text>
<text transform="translate(189.4,421.7) scale(1,1.03)" font-size="15.5" text-anchor="middle" font-weight="normal" font-style="normal" >a</text>
<text transform="translate(237.6,421.7) scale(1,1.03)" font-size="15.5" text-anchor="middle" font-weight="normal" font-style="normal" >b</text>
<text transform="translate(285.6,421.7) scale(1,1.03)" font-size="15.5" text-anchor="middle" font-weight="normal" font-style="normal" >a</text>
<text transform="translate(333.6,421.7) scale(1,1.03)" font-size="15.5" text-anchor="middle" font-weight="normal" font-style="normal" >a</text>
<text transform="translate(92.8,747.7) scale(1,1.03)" font-size="15.5" text-anchor="middle" font-weight="normal" font-style="normal" >M</text>
<text transform="translate(141.2,747.7) scale(1,1.03)" font-size="15.5" text-anchor="middle" font-weight="normal" font-style="normal" >Pip</text>
<text transform="translate(189.4,747.7) scale(1,1.03)" font-size="15.5" text-anchor="middle" font-weight="normal" font-style="normal" >M</text>
<text transform="translate(238.0,747.7) scale(1,1.03)" font-size="15.5" text-anchor="middle" font-weight="normal" font-style="normal" >Pip</text>
<text transform="translate(286.0,747.7) scale(1,1.03)" font-size="15.5" text-anchor="middle" font-weight="normal" font-style="normal" >M</text>
<text transform="translate(334.7,747.7) scale(1,1.03)" font-size="15.5" text-anchor="middle" font-weight="normal" font-style="normal" >Pip</text>
<text transform="translate(119.3,769.3) scale(1,1.03)" font-size="15.5" text-anchor="middle" font-weight="normal" font-style="normal" >Col-0</text>
<text transform="translate(215.5,769.3) scale(1,1.03)" font-size="15.5" text-anchor="middle" font-weight="normal" font-style="italic" >azi1-2</text>
<text transform="translate(312.0,769.3) scale(1,1.03)" font-size="15.5" text-anchor="middle" font-weight="normal" font-style="italic" >gly1-3</text>
<text transform="translate(14.6,572.9) rotate(-90) scale(1,1.03)" x="0" y="0" font-size="15" text-anchor="middle"><tspan font-style="italic">Pst</tspan> titer (log<tspan font-size="10.5" dy="3.5">10</tspan><tspan dy="-3.5"> cfu cm</tspan><tspan font-size="10.5" dy="-6">−2</tspan><tspan dy="6">)</tspan></text>
<text x="-0.1" y="416.8" font-size="20.5" text-anchor="start" font-weight="bold" font-style="normal" >c</text>
<path d="M473.3,717.4 V471.3 H504.4 V717.4" fill="#fff" stroke="#7a7a7a" stroke-width="1.1"/>
<path d="M488.95,447.2 V490.1 M480.2,447.2 H497.7 M480.2,490.1 H497.7" fill="none" stroke="#7a7a7a" stroke-width="1.1"/>
<path d="M526.2,717.4 V564.4 H558.2 V717.4" fill="#fff" stroke="#7a7a7a" stroke-width="1.1"/>
<path d="M542.2,527.1 V598.6 M533.3,527.1 H551.1 M533.3,598.6 H551.1" fill="none" stroke="#7a7a7a" stroke-width="1.1"/>
<path d="M579.6,717.4 V481.3 H611.8 V717.4" fill="#fff" stroke="#7a7a7a" stroke-width="1.1"/>
<path d="M595.25,450.2 V508.3 M586.5,450.2 H604.0 M586.5,508.3 H604.0" fill="none" stroke="#7a7a7a" stroke-width="1.1"/>
<path d="M632.6,717.4 V488.3 H664.4 V717.4" fill="#fff" stroke="#7a7a7a" stroke-width="1.1"/>
<path d="M648.3,451.5 V519.2 M639.9,451.5 H656.7 M639.9,519.2 H656.7" fill="none" stroke="#7a7a7a" stroke-width="1.1"/>
<path d="M453.9,428.79999999999995 V717.4" stroke="#262626" stroke-width="1.3" fill="none"/>
<path d="M444.3,717.4 H685" stroke="#262626" stroke-width="1.3" fill="none"/>
<path d="M444.3,717.4 H453.9" stroke="#262626" stroke-width="1.3" fill="none"/>
<text transform="translate(437.2,722.4) scale(1,1.03)" font-size="15.5" text-anchor="end" font-weight="normal" font-style="normal" >3</text>
<path d="M444.3,645.4 H453.9" stroke="#262626" stroke-width="1.3" fill="none"/>
<text transform="translate(437.2,650.4) scale(1,1.03)" font-size="15.5" text-anchor="end" font-weight="normal" font-style="normal" >4</text>
<path d="M444.3,573.4 H453.9" stroke="#262626" stroke-width="1.3" fill="none"/>
<text transform="translate(437.2,578.4) scale(1,1.03)" font-size="15.5" text-anchor="end" font-weight="normal" font-style="normal" >5</text>
<path d="M444.3,501.4 H453.9" stroke="#262626" stroke-width="1.3" fill="none"/>
<text transform="translate(437.2,506.4) scale(1,1.03)" font-size="15.5" text-anchor="end" font-weight="normal" font-style="normal" >6</text>
<path d="M444.3,429.4 H453.9" stroke="#262626" stroke-width="1.3" fill="none"/>
<text transform="translate(437.2,434.4) scale(1,1.03)" font-size="15.5" text-anchor="end" font-weight="normal" font-style="normal" >7</text>
<path d="M489.6,717.4 V729.6999999999999" stroke="#262626" stroke-width="1.3" fill="none"/>
<path d="M542.1,717.4 V729.6999999999999" stroke="#262626" stroke-width="1.3" fill="none"/>
<path d="M595.5,717.4 V729.6999999999999" stroke="#262626" stroke-width="1.3" fill="none"/>
<path d="M648.3,717.4 V729.6999999999999" stroke="#262626" stroke-width="1.3" fill="none"/>
<circle cx="476.7" cy="448.7" r="5.1"/>
<circle cx="489.8" cy="442.4" r="5.1"/>
<circle cx="502.7" cy="445.3" r="5.1"/>
<circle cx="489.8" cy="454.8" r="5.1"/>
<circle cx="489.8" cy="466.9" r="5.1"/>
<circle cx="476.7" cy="482.8" r="5.1"/>
<circle cx="489.8" cy="488.7" r="5.1"/>
<circle cx="502.7" cy="488.7" r="5.1"/>
<circle cx="476.7" cy="495.7" r="5.1"/>
<ellipse cx="529.3" cy="521.3" rx="4.7" ry="5.8"/>
<circle cx="543.0" cy="526.3" r="5.1"/>
<circle cx="529.8" cy="536.1" r="5.1"/>
<circle cx="555.7" cy="539.2" r="5.1"/>
<circle cx="543.0" cy="546.2" r="5.1"/>
<circle cx="543.0" cy="576.8" r="5.1"/>
<circle cx="543.0" cy="589.7" r="5.1"/>
<circle cx="529.8" cy="611.5" r="5.1"/>
<circle cx="555.7" cy="611.5" r="5.1"/>
<circle cx="582.8" cy="442.5" r="5.1"/>
<circle cx="595.7" cy="445.2" r="5.1"/>
<circle cx="582.8" cy="456.9" r="5.1"/>
<circle cx="609.0" cy="466.9" r="5.1"/>
<circle cx="582.8" cy="478.1" r="5.1"/>
<circle cx="595.7" cy="478.1" r="5.1"/>
<circle cx="595.7" cy="504.6" r="5.1"/>
<circle cx="582.8" cy="517.5" r="5.1"/>
<circle cx="609.0" cy="517.5" r="5.1"/>
<circle cx="635.8" cy="442.5" r="5.1"/>
<circle cx="661.9" cy="447.0" r="5.1"/>
<circle cx="648.7" cy="452.6" r="5.1"/>
<circle cx="635.8" cy="474.1" r="5.1"/>
<circle cx="661.9" cy="483.0" r="5.1"/>
<circle cx="648.7" cy="504.6" r="5.1"/>
<circle cx="661.9" cy="504.6" r="5.1"/>
<circle cx="648.7" cy="517.2" r="5.1"/>
<circle cx="648.7" cy="538.0" r="5.1"/>
<text transform="translate(489.0,421.5) scale(1,1.03)" font-size="15.5" text-anchor="middle" font-weight="normal" font-style="normal" >a</text>
<text transform="translate(542.2,421.5) scale(1,1.03)" font-size="15.5" text-anchor="middle" font-weight="normal" font-style="normal" >b</text>
<text transform="translate(595.5,421.5) scale(1,1.03)" font-size="15.5" text-anchor="middle" font-weight="normal" font-style="normal" >a</text>
<text transform="translate(648.3,421.5) scale(1,1.03)" font-size="15.5" text-anchor="middle" font-weight="normal" font-style="normal" >a</text>
<text transform="translate(489.5,747.6) scale(1,1.03)" font-size="15.5" text-anchor="middle" font-weight="normal" font-style="normal" >M</text>
<text transform="translate(545.0,747.6) scale(1,1.03)" font-size="15.5" text-anchor="middle" font-weight="normal" font-style="normal" >Pip</text>
<text transform="translate(594.5,747.6) scale(1,1.03)" font-size="15.5" text-anchor="middle" font-weight="normal" font-style="normal" >M</text>
<text transform="translate(648.0,747.6) scale(1,1.03)" font-size="15.5" text-anchor="middle" font-weight="normal" font-style="normal" >Pip</text>
<text transform="translate(520.1,769.4) scale(1,1.03)" font-size="15.5" text-anchor="middle" font-weight="normal" font-style="normal" >Col-0</text>
<text transform="translate(623.5,769.4) scale(1,1.03)" font-size="15.5" text-anchor="middle" font-weight="normal" font-style="italic" >ggpps12</text>
<text transform="translate(411.8,572.3) rotate(-90) scale(1,1.03)" x="0" y="0" font-size="15" text-anchor="middle"><tspan font-style="italic">Pst</tspan> titer (log<tspan font-size="10.5" dy="3.5">10</tspan><tspan dy="-3.5"> cfu cm</tspan><tspan font-size="10.5" dy="-6">−2</tspan><tspan dy="6">)</tspan></text>
<text x="396.0" y="416.8" font-size="20.5" text-anchor="start" font-weight="bold" font-style="normal" >d</text>
</svg>
</body></html>
